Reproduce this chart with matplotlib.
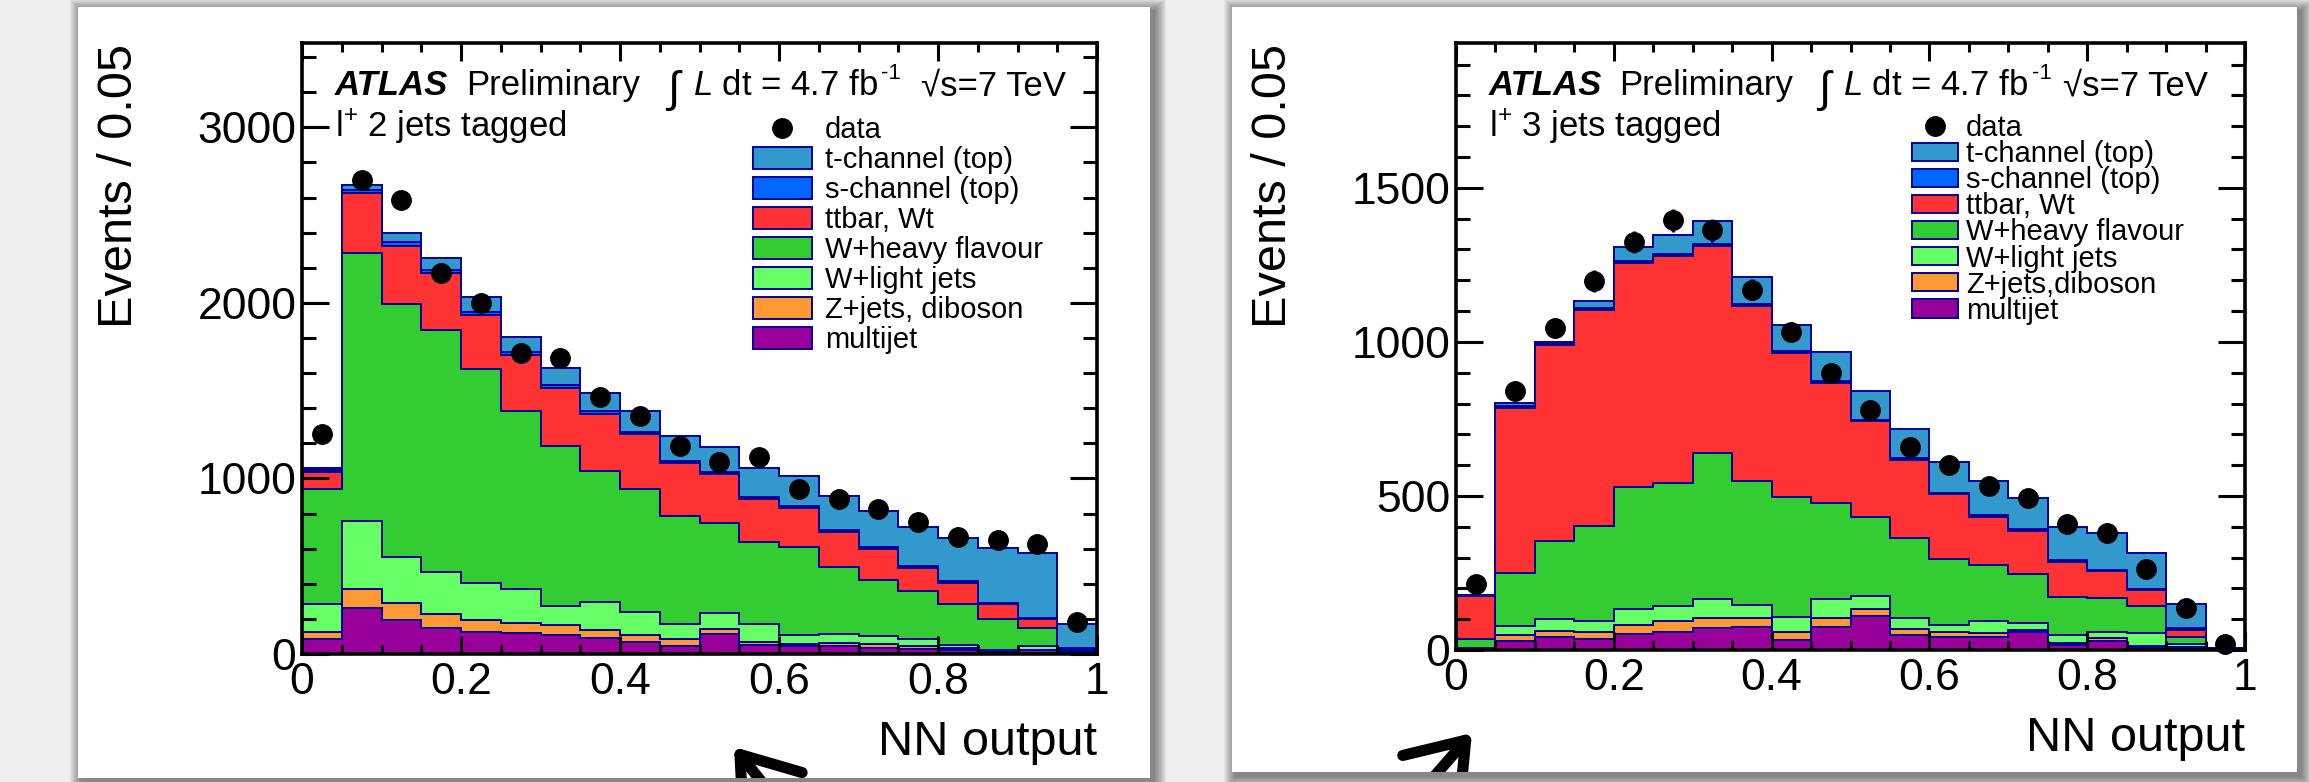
import numpy as np
import matplotlib.pyplot as plt
from matplotlib.patches import Rectangle, Patch, FancyArrowPatch
from matplotlib.lines import Line2D
from matplotlib.ticker import MultipleLocator, FuncFormatter

plt.rcParams['font.family'] = ['Liberation Sans', 'DejaVu Sans']
plt.rcParams['mathtext.fontset'] = 'custom'
plt.rcParams['mathtext.rm'] = 'Liberation Sans'
plt.rcParams['mathtext.it'] = 'Liberation Sans:italic'
plt.rcParams['mathtext.bf'] = 'Liberation Sans:bold'

# NN output binning: 20 bins of 0.05
edges = np.linspace(0, 1, 21)

legend_labels_2j = ['t-channel (top)', 's-channel (top)', 'ttbar, Wt', 'W+heavy flavour',
                    'W+light jets', 'Z+jets, diboson', 'multijet']
legend_labels_3j = ['t-channel (top)', 's-channel (top)', 'ttbar, Wt', 'W+heavy flavour',
                    'W+light jets', 'Z+jets,diboson', 'multijet']
# colours in legend order (top of stack first)
colors = ['#3399cc', '#0066ff', '#ff3333', '#33cc33', '#66ff66', '#ff9933', '#990099']
line_col = '#000099'

# l+ 2 jets tagged (per-bin contributions)
tc_2j = [13, 31, 51, 67, 84, 89, 98, 106, 118, 142, 143, 163, 173, 193, 208, 226, 249, 310, 368, 139]
sc_2j = [10, 20, 20, 18, 18, 17, 16, 16, 15, 14, 14, 13, 12, 12, 11, 10, 10, 9, 8, 4]
tt_2j = [99, 338, 330, 325, 307, 316, 330, 322, 313, 299, 279, 242, 219, 199, 176, 133, 120, 85, 51, 8]
wh_2j = [655, 1525, 1439, 1377, 1215, 1015, 910, 745, 697, 617, 512, 469, 504, 384, 316, 271, 233, 179, 105, 8]
wl_2j = [156, 390, 262, 241, 216, 196, 111, 162, 134, 86, 91, 100, 51, 51, 48, 42, 17, 3, 18, 4]
zj_2j = [43, 108, 100, 80, 63, 55, 57, 46, 37, 42, 28, 20, 14, 20, 23, 15, 11, 3, 5, 3]
mj_2j = [85, 262, 193, 148, 128, 119, 108, 91, 71, 43, 114, 51, 43, 43, 34, 28, 23, 14, 20, 5]
data_2j = [1252, 2697, 2583, 2168, 2000, 1713, 1684, 1465, 1357, 1186, 1095, 1124, 939, 882, 825, 754, 669, 649, 626, 185]
err_2j = [35, 52, 51, 47, 45, 41, 41, 38, 37, 34, 33, 34, 31, 30, 29, 27, 26, 25, 25, 14]

# l+ 3 jets tagged
tc_3j = [0, 10, 6, 23, 47, 63, 75, 86, 85, 94, 92, 95, 100, 113, 100, 109, 120, 117, 79, 2]
sc_3j = [2, 5, 5, 6, 6, 6, 6, 6, 6, 6, 5, 5, 5, 5, 5, 4, 4, 4, 6, 1]
tt_3j = [139, 536, 634, 701, 727, 738, 672, 571, 469, 392, 309, 255, 211, 156, 141, 114, 87, 51, 22, 1]
wh_3j = [30, 173, 255, 309, 396, 398, 473, 401, 388, 310, 257, 260, 213, 182, 159, 124, 108, 89, 23, 1]
wl_3j = [2, 29, 37, 35, 51, 48, 63, 43, 51, 63, 44, 36, 21, 40, 22, 27, 21, 40, 10, 1]
zj_3j = [1, 20, 20, 25, 29, 35, 33, 29, 25, 27, 22, 18, 17, 11, 8, 6, 9, 3, 2, 0]
mj_3j = [3, 29, 43, 35, 52, 60, 70, 74, 32, 76, 110, 49, 43, 43, 57, 16, 30, 11, 8, 2]
data_3j = [214, 839, 1045, 1198, 1323, 1395, 1362, 1169, 1032, 900, 779, 658, 602, 532, 492, 408, 379, 263, 137, 18]
err_3j = [15, 29, 32, 35, 36, 37, 37, 34, 32, 30, 28, 26, 25, 23, 22, 20, 19, 16, 12, 4]

W, H = 2309, 782
fig = plt.figure(figsize=(W / 100, H / 100), dpi=100, facecolor='#eeeeee')


def fx(px):
    return px / W


def fy(py):
    return 1 - py / H


def panel(x0, y0, x1, y1):
    # soft drop shadow, then the white card
    for k in range(12, 0, -1):
        fig.add_artist(Rectangle((fx(x0 + 4 - k), fy(y1 + 4 + k)), fx(x1 - x0 + 2 * k), (y1 - y0 + 2 * k) / H,
                                 transform=fig.transFigure, facecolor='black', edgecolor='none',
                                 alpha=0.045, zorder=-20))
    card = Rectangle((fx(x0), fy(y1)), fx(x1 - x0), (y1 - y0) / H, transform=fig.transFigure,
                     facecolor='white', edgecolor='none', zorder=-10)
    fig.add_artist(card)
    return card


def draw_hist(box, comps, data, err, ymax, ymaj, ymin_, labels, leg_pos, leg_kw):
    x0, y0, x1, y1 = box
    ax = fig.add_axes([fx(x0), fy(y1), fx(x1 - x0), (y1 - y0) / H])
    bottom = np.zeros(len(edges) - 1)
    for vals, c in zip(comps[::-1], colors[::-1]):
        top = bottom + np.array(vals)
        ax.stairs(top, edges, baseline=bottom, fill=True, facecolor=c, edgecolor=line_col, linewidth=1.4)
        bottom = top
    centers = 0.5 * (edges[:-1] + edges[1:])
    ax.errorbar(centers, data, yerr=err, fmt='o', color='black', ms=14, ecolor=line_col,
                elinewidth=2.5, capsize=0, zorder=5, clip_on=False)
    ax.set_xlim(0, 1)
    ax.set_ylim(0, ymax)
    ax.xaxis.set_major_locator(MultipleLocator(0.2))
    ax.xaxis.set_minor_locator(MultipleLocator(0.05))
    ax.yaxis.set_major_locator(MultipleLocator(ymaj))
    ax.yaxis.set_minor_locator(MultipleLocator(ymin_))
    ax.xaxis.set_major_formatter(FuncFormatter(lambda v, p: f'{v:g}'))
    ax.yaxis.set_major_formatter(FuncFormatter(lambda v, p: f'{v:.0f}'))
    ax.tick_params(which='both', direction='in', top=True, right=True, width=2.2, labelsize=32)
    ax.tick_params(axis='x', which='major', length=13, pad=6)
    ax.tick_params(axis='x', which='minor', length=6.5)
    ax.tick_params(axis='y', which='major', length=19.5, pad=4)
    ax.tick_params(axis='y', which='minor', length=10)
    for s in ax.spines.values():
        s.set_linewidth(2.6)

    handles = [Line2D([], [], marker='o', color='black', ls='none', ms=14)]
    handles += [Patch(facecolor=c, edgecolor=line_col, linewidth=1.4) for c in colors]
    ax.legend(handles, ['data'] + labels, loc='upper left',
              bbox_to_anchor=(fx(leg_pos[0]), fy(leg_pos[1])), bbox_transform=fig.transFigure,
              frameon=False, fontsize=21, borderpad=0, borderaxespad=0, **leg_kw)
    return ax


card_l = panel(78, 7, 1150, 778)
card_r = panel(1232, 7, 2297, 772)

comps_2j = [tc_2j, sc_2j, tt_2j, wh_2j, wl_2j, zj_2j, mj_2j]
comps_3j = [tc_3j, sc_3j, tt_3j, wh_3j, wl_3j, zj_3j, mj_3j]

draw_hist((302, 43, 1097, 654), comps_2j, data_2j, err_2j, 3480, 1000, 200, legend_labels_2j,
          (753, 116), dict(handlelength=2.02, handleheight=0.75, handletextpad=0.45, labelspacing=0.07))
draw_hist((1456, 43, 2245, 650), comps_3j, data_3j, err_3j, 1970, 500, 100, legend_labels_3j,
          (1912, 114), dict(handlelength=1.58, handleheight=0.58, handletextpad=0.27, labelspacing=-0.065))

# panel texts
for xs, tag in [((335, 466, 667, 693, 881, 921), r'l$^{+}$ 2 jets tagged'),
                ((1489, 1619, 1818, 1843, 2032, 2063), r'l$^{+}$ 3 jets tagged')]:
    fig.text(fx(xs[0]), fy(95), 'ATLAS', fontsize=25, fontweight='bold', style='italic', va='baseline')
    fig.text(fx(xs[1]), fy(95), 'Preliminary', fontsize=25, va='baseline')
    fig.text(fx(xs[2]), fy(102), '\u222b', fontsize=32, va='baseline')
    fig.text(fx(xs[3]), fy(95), r'$\mathit{L}$ dt = 4.7 fb', fontsize=25, va='baseline')
    fig.text(fx(xs[4]), fy(79), '-1', fontsize=16, va='baseline')
    fig.text(fx(xs[5]), fy(95), '\u221as=7 TeV', fontsize=25, va='baseline')
    fig.text(fx(xs[0]), fy(137), tag, fontsize=25, va='baseline')

fig.text(fx(119), fy(44), 'Events / 0.05', rotation=90, ha='center', va='top', fontsize=35)
fig.text(fx(1273), fy(44), 'Events / 0.05', rotation=90, ha='center', va='top', fontsize=35)
fig.text(fx(1097), fy(755), 'NN output', ha='right', va='baseline', fontsize=35)
fig.text(fx(2245), fy(751), 'NN output', ha='right', va='baseline', fontsize=35)

# hand-drawn pointer arrows
for tail, tip, card in [((780, 805), (734, 747), card_l), ((1412, 802), (1472, 733), card_r)]:
    arr = FancyArrowPatch(posA=(fx(tail[0]), fy(tail[1])), posB=(fx(tip[0]), fy(tip[1])),
                          transform=fig.transFigure, arrowstyle='->,head_length=3.8,head_width=2.7',
                          mutation_scale=10, lw=8, color='black', shrinkA=0, shrinkB=0,
                          capstyle='round', joinstyle='round', zorder=10)
    fig.add_artist(arr)
    arr.set_clip_path(card)

fig.savefig('out.png', dpi=100, facecolor=fig.get_facecolor())
